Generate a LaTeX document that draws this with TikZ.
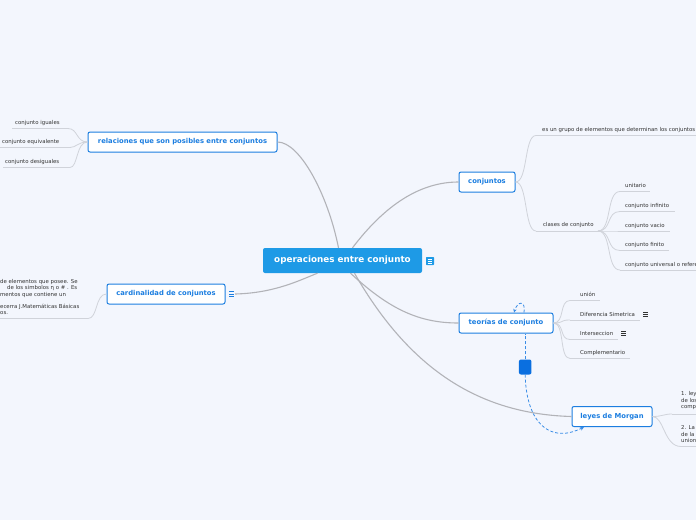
\documentclass[tikz,border=0pt]{standalone}
\usepackage{fontspec}
\setmainfont{DejaVu Sans}
\usetikzlibrary{arrows.meta}
\definecolor{bg}{HTML}{F3F6FD}
\definecolor{nodeblue}{HTML}{1C7EE0}
\definecolor{centralblue}{HTML}{1E9AE6}
\definecolor{mainline}{HTML}{B2B3B8}
\definecolor{leafline}{HTML}{D0D3DA}
\definecolor{leaftext}{HTML}{333333}
\definecolor{dashblue}{HTML}{3A8DE6}
\definecolor{hubblue}{HTML}{0A6FE0}
\begin{document}
\begin{tikzpicture}[x=1pt,y=-1pt,
  topic/.style={draw=nodeblue, line width=1pt, fill=white, rounded corners=2pt,
    text=nodeblue, font=\fontsize{6.8}{8}\selectfont\bfseries, inner sep=0pt,
    minimum height=20pt},
  central/.style={fill=centralblue, rounded corners=2pt, text=white,
    font=\fontsize{8.8}{10}\selectfont\bfseries, inner sep=0pt,
    minimum height=25pt, minimum width=159pt},
  leaf/.style={anchor=base west, inner sep=0pt, text=leaftext,
    font=\fontsize{5.4}{6.4}\selectfont},
  mainl/.style={draw=mainline, line width=1.1pt},
  leafl/.style={draw=leafline, line width=0.8pt},
  dashl/.style={draw=dashblue, line width=0.8pt, dash pattern=on 3pt off 2pt},
]
\fill[bg] (0,0) rectangle (696,520);
\useasboundingbox (0,0) rectangle (696,520);

% ---------- main nodes ----------
\node[central] (op) at (342.5,260.5) {operaciones entre conjunto};
\node[topic, minimum width=189pt] (rel) at (182.5,142) {relaciones que son posibles entre conjuntos};
\node[topic, minimum width=118pt] (card) at (166,294) {cardinalidad de conjuntos};
\node[topic, minimum width=56pt] (conj) at (487,182) {conjuntos};
\node[topic, minimum width=94pt] (teo) at (506,323) {teorías de conjunto};
\node[topic, minimum width=80pt] (ley) at (612,416.5) {leyes de Morgan};

% icons
\node[fill=centralblue, rounded corners=0.6pt, minimum size=8pt, inner sep=0pt] (opicon) at (430,261) {};
\foreach \dy in {-2,0,2}
  \draw[white, line width=0.7pt] ([xshift=-2.3pt,yshift=\dy pt]opicon.center) -- ([xshift=2.3pt,yshift=\dy pt]opicon.center);
\node[minimum size=7pt, inner sep=0pt] (cardicon) at (231.5,294) {};
\foreach \dy in {-2.2,0,2.2}
  \draw[nodeblue, line width=0.8pt] ([xshift=-2.5pt,yshift=\dy pt]cardicon.center) -- ([xshift=2.5pt,yshift=\dy pt]cardicon.center);

% ---------- main connectors ----------
\draw[mainl] (rel.east) .. controls (300,142) and (328,195) .. ([xshift=-4pt]op.north);
\draw[mainl] ([xshift=10pt]op.north) .. controls (385,205) and (420,182) .. (conj.west);
\draw[mainl] (cardicon.east) .. controls (275,293) and (300,280) .. ([xshift=-25pt]op.south);
\draw[mainl] ([xshift=8pt]op.south) .. controls (390,310) and (420,323) .. (teo.west);
\draw[mainl] ([xshift=12pt]op.south) .. controls (410,370) and (480,414) .. (ley.west);

% ---------- relaciones children ----------
\node[leaf] (r1) at (15,124.8) {conjunto iguales};
\node[leaf] (r2) at (2,143.8) {conjunto equivalente};
\node[leaf] (r3) at (5,163.8) {conjunto desiguales};
\coordinate (r1a) at (12,128.5); \coordinate (r1b) at (68,128.5);
\coordinate (r2a) at (0,147.5); \coordinate (r2b) at (70,147.5);
\coordinate (r3a) at (3,167.5); \coordinate (r3b) at (70,167.5);
\draw[leafl] (r1a) -- (r1b);
\draw[leafl] (r2a) -- (r2b);
\draw[leafl] (r3a) -- (r3b);
\draw[leafl] (rel.west) .. controls (76,142) and (78,128.5) .. (r1b);
\draw[leafl] (rel.west) .. controls (78,142) and (76,147.5) .. (r2b);
\draw[leafl] (rel.west) .. controls (76,142) and (78,167.5) .. (r3b);

% ---------- cardinalidad child ----------
\node[leaf] (k1) at (0,283) {de elementos que posee. Se};
\node[leaf] (k2) at (7,289.5) {de los simbolos η o \# . Es};
\node[leaf] (k3) at (0,296) {mentos que contiene un};
\node[leaf] (k4) at (0,308) {ecerra J.Matemáticas Básicas};
\node[leaf] (k5) at (0,314.5) {os.};
\coordinate (ka) at (0,318.5); \coordinate (kb) at (88,318.5);
\draw[leafl] (ka) -- (kb);
\draw[leafl] (card.west) .. controls (95,294) and (98,318.5) .. (kb);

% ---------- conjuntos children ----------
\node[leaf] (c1) at (542,131.8) {es un grupo de elementos que determinan los conjuntos};
\coordinate (c1a) at (536,135.5); \coordinate (c1b) at (700,135.5);
\draw[leafl] (c1a) -- (c1b);
\draw[leafl] (conj.east) .. controls (528,182) and (524,135.5) .. (c1a);
\node[leaf] (c2) at (543,226.8) {clases de conjunto};
\coordinate (c2a) at (536,231); \coordinate (c2b) at (598,231);
\draw[leafl] (c2a) -- (c2b);
\draw[leafl] (conj.east) .. controls (528,182) and (524,231) .. (c2a);

\foreach \name/\txt/\y/\e in {u1/unitario/186/650, u2/conjunto infinito/206/675, u3/conjunto vacio/225.5/670, u4/conjunto finito/245/669, u5/conjunto universal o referencial/264.5/700}{
  \node[leaf] (\name) at (625,\y+1.8) {\txt};
  \coordinate (\name a) at (620,\y+5.5);
  \coordinate (\name b) at (\e,\y+5.5);
  \draw[leafl] (\name a) -- (\name b);
  \draw[leafl] (c2b) .. controls (612,231) and (606,\y+5.5) .. (\name a);
}

% ---------- teorias children ----------
\foreach \name/\txt/\y/\e in {t1/unión/295/600, t2/Diferencia Simetrica/314.5/640, t3/Interseccion/334/618, t4/Complementario/353/630}{
  \node[leaf] (\name) at (580,\y+1.8) {\txt};
  \coordinate (\name a) at (570,\y+5.5);
  \coordinate (\name b) at (\e,\y+5.5);
  \draw[leafl] (\name a) -- (\name b);
  \draw[leafl] (teo.east) .. controls (565,323) and (559,\y+5.5) .. (\name a);
}
\foreach \cx/\cy in {645.5/314.5, 623.5/333.5}
  \foreach \dy in {-2,0,2}
    \draw[leaftext, line width=0.7pt] (\cx-2.2,\cy+\dy) -- (\cx+2.2,\cy+\dy);

% ---------- leyes children ----------
\node[leaf] (l1) at (681,395.5) {1. ley};
\node[leaf] (l2) at (681,402) {de los};
\node[leaf] (l3) at (681,408.5) {compl};
\coordinate (l1a) at (672,414); \coordinate (l1b) at (700,414);
\draw[leafl] (l1a) -- (l1b);
\draw[leafl] (ley.east) .. controls (662,416.5) and (664,414) .. (l1a);
\node[leaf] (l4) at (681,429.5) {2. La};
\node[leaf] (l5) at (681,436) {de la};
\node[leaf] (l6) at (681,442.5) {union};
\coordinate (l2a) at (681,446.5); \coordinate (l2b) at (700,446.5);
\draw[leafl] (l2a) -- (l2b);
\draw[leafl] (ley.east) .. controls (664,416.5) and (664,446.5) .. (l2a);

% ---------- dashed relation ----------
\node[fill=hubblue, rounded corners=2pt, minimum width=12.5pt, minimum height=15pt, inner sep=0pt] (hub) at (525.2,367) {};
\draw[dashl] (hub.north) -- (hub.north |- teo.south);
\draw[dashl, -{Stealth[length=4pt,width=4pt]}] (hub.south) .. controls (526,420) and (548,445) .. ([xshift=-28pt]ley.south);
\draw[dashl, -{Stealth[length=3.5pt,width=3.5pt]}] ([xshift=18pt]teo.north) .. controls (526,301) and (518,300) .. ([xshift=8pt]teo.north);
\end{tikzpicture}
\end{document}
